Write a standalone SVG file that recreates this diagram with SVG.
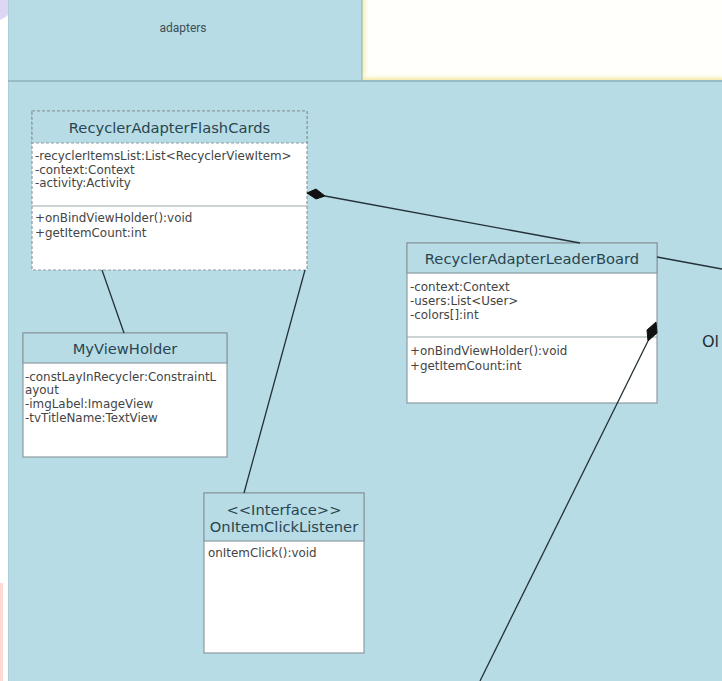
<svg xmlns="http://www.w3.org/2000/svg" width="722" height="681" viewBox="0 0 722 681">
<defs>
<style>
.bg{fill:#b7dce6}
.box{fill:#ffffff;stroke:#8c9ca1;stroke-width:1.2}
.dash{stroke-dasharray:3,2}
.hdr{fill:#b7dce6;stroke:#8c9ca1;stroke-width:1.2}
.sep{stroke:#9aa8ac;stroke-width:1.2}
.title{font-family:"DejaVu Sans",Verdana,sans-serif;font-size:14.7px;fill:#2a4550;text-anchor:middle}
.attr{font-family:"DejaVu Sans",Verdana,sans-serif;font-size:11.9px;fill:#444}
.conn{stroke:#243238;stroke-width:1.3;fill:none}
.dia{fill:#111;stroke:#111;stroke-width:1}
</style>
<linearGradient id="glowL" x1="0" y1="0" x2="1" y2="0">
<stop offset="0" stop-color="#f7e9a6"/><stop offset="1" stop-color="#fffffb" stop-opacity="0"/>
</linearGradient>
<linearGradient id="glowB" x1="0" y1="1" x2="0" y2="0">
<stop offset="0" stop-color="#f7e9a6"/><stop offset="1" stop-color="#fffffb" stop-opacity="0"/>
</linearGradient>
</defs>
<rect x="0" y="0" width="722" height="681" fill="#ffffff"/>
<path d="M0,0 H34 Q20,4 12,12 Q6,17 0,20 Z" fill="#ddd6f5"/>
<rect x="0" y="583" width="3" height="98" fill="#ffd9d6"/>
<rect class="bg" x="8" y="0" width="714" height="681"/>
<line x1="8.5" y1="0" x2="8.5" y2="681" stroke="#a9cfd9" stroke-width="1"/>
<rect x="362" y="0" width="360" height="80" fill="#fffffb"/>
<rect x="362" y="0" width="8" height="80" fill="url(#glowL)"/>
<rect x="362" y="73" width="360" height="7" fill="url(#glowB)"/>
<line x1="362" y1="0" x2="362" y2="81" stroke="#8fb0ba" stroke-width="1"/>
<line x1="8" y1="81" x2="722" y2="81" stroke="#8fb0ba" stroke-width="1.5"/>
<text x="183" y="32" font-family="Roboto,'Liberation Sans',Arial,sans-serif" font-size="12" fill="#3b4f57" text-anchor="middle">adapters</text>

<g id="RecyclerAdapterFlashCards">
<rect class="box dash" x="32" y="111" width="275" height="159"/>
<rect class="hdr dash" x="32" y="111" width="275" height="32"/>
<line class="sep" x1="32" y1="206" x2="307" y2="206"/>
<text class="title" x="169.5" y="133">RecyclerAdapterFlashCards</text>
<text class="attr" x="35" y="160">-recyclerItemsList:List&lt;RecyclerViewItem&gt;</text>
<text class="attr" x="35" y="174">-context:Context</text>
<text class="attr" x="35" y="187">-activity:Activity</text>
<text class="attr" x="35" y="222">+onBindViewHolder():void</text>
<text class="attr" x="35" y="237">+getItemCount:int</text>
</g>

<g id="MyViewHolder">
<rect class="box" x="23" y="333" width="204" height="124"/>
<rect class="hdr" x="23" y="333" width="204" height="30"/>
<text class="title" x="125" y="354">MyViewHolder</text>
<text class="attr" x="25" y="381">-constLayInRecycler:ConstraintL</text>
<text class="attr" x="25" y="394">ayout</text>
<text class="attr" x="25" y="408">-imgLabel:ImageView</text>
<text class="attr" x="25" y="422">-tvTitleName:TextView</text>
</g>

<g id="OnItemClickListener">
<rect class="box" x="204" y="493" width="160" height="160"/>
<rect class="hdr" x="204" y="493" width="160" height="48"/>
<text class="title" x="284" y="515">&lt;&lt;Interface&gt;&gt;</text>
<text class="title" x="284" y="532">OnItemClickListener</text>
<text class="attr" x="208" y="557">onItemClick():void</text>
</g>

<g id="RecyclerAdapterLeaderBoard">
<rect class="box" x="407" y="243" width="250" height="160"/>
<rect class="hdr" x="407" y="243" width="250" height="30"/>
<line class="sep" x1="407" y1="337" x2="657" y2="337"/>
<text class="title" x="532" y="264">RecyclerAdapterLeaderBoard</text>
<text class="attr" x="410" y="291">-context:Context</text>
<text class="attr" x="410" y="305">-users:List&lt;User&gt;</text>
<text class="attr" x="410" y="319">-colors[]:int</text>
<text class="attr" x="410" y="355">+onBindViewHolder():void</text>
<text class="attr" x="410" y="370">+getItemCount:int</text>
</g>

<g id="connectors">
<line class="conn" x1="325" y1="196" x2="580" y2="243"/>
<path class="dia" d="M307,193 L316,189 L325,196 L316,199 Z"/>
<line class="conn" x1="657" y1="257" x2="722" y2="269"/>
<line class="conn" x1="648" y1="341" x2="480" y2="681"/>
<path class="dia" d="M656,322 L657,333 L648,341 L647,330 Z"/>
<line class="conn" x1="102" y1="270" x2="124" y2="333"/>
<line class="conn" x1="305" y1="270" x2="244" y2="493"/>
</g>

<g id="partial">
<text x="702" y="347" font-family="'DejaVu Sans',Verdana,sans-serif" font-size="16" fill="#1f2f35">Ol</text>
</g>
</svg>
